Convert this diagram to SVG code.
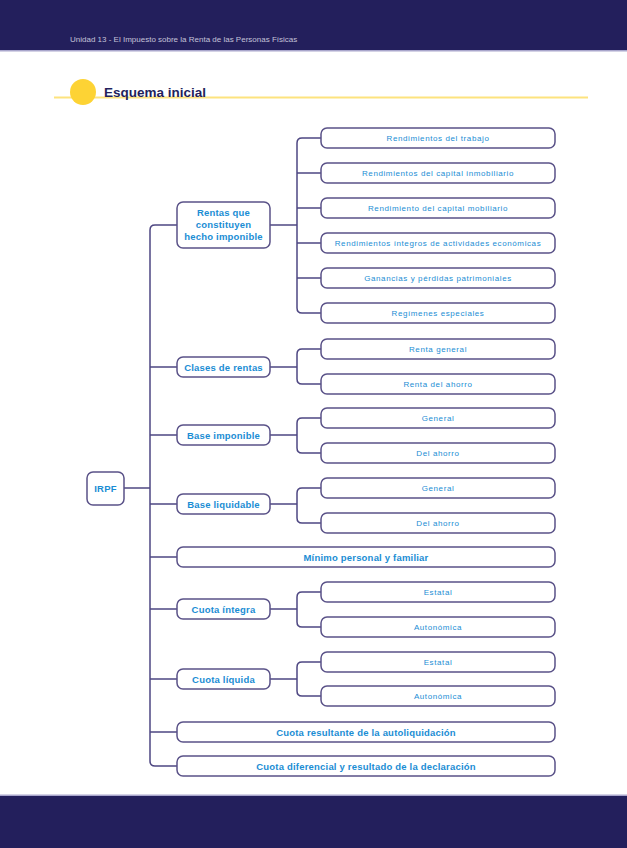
<svg xmlns="http://www.w3.org/2000/svg" width="627" height="848" viewBox="0 0 627 848">
<style>
.box{fill:#fff;stroke:#5a5288;stroke-width:1.5}
.con{fill:none;stroke:#4e4782;stroke-width:1.5}
.t2{font-family:"Liberation Sans",Arial,sans-serif;font-size:9.5px;font-weight:bold;fill:#1a8dd4;text-anchor:middle;letter-spacing:0.2px}
.t3{font-family:"Liberation Sans",Arial,sans-serif;font-size:8px;fill:#1a8dd4;text-anchor:middle;letter-spacing:0.6px}
</style>
<rect x="0" y="0" width="627" height="50" fill="#231f5c"/>
<rect x="0" y="50" width="627" height="1.5" fill="#a9a6cc"/>
<text x="70" y="42" font-family="'Liberation Sans',Arial,sans-serif" font-size="8" fill="#c4c2d8">Unidad 13 - El Impuesto sobre la Renta de las Personas Físicas</text>
<rect x="0" y="794.5" width="627" height="1.5" fill="#a9a6cc"/>
<rect x="0" y="796" width="627" height="52" fill="#231f5c"/>
<g id="title">
<line x1="54" y1="97.5" x2="588" y2="97.5" stroke="#fde37e" stroke-width="2"/>
<circle cx="83" cy="92" r="13" fill="#fdd334"/>
<text x="104" y="97" font-family="'Liberation Sans',Arial,sans-serif" font-size="13.5" font-weight="bold" fill="#231f5c">Esquema inicial</text>
</g>
<g id="connectors" class="con">
<path d="M124,488 H150"/>
<path d="M177,225 H155 Q150,225 150,230 V761 Q150,766 155,766 H177"/>
<path d="M150,367 H177 M150,435 H177 M150,504 H177 M150,557 H177 M150,609 H177 M150,679 H177 M150,732 H177"/>
<path d="M270,225 H297"/>
<path d="M321,138 H302 Q297,138 297,143 V308 Q297,313 302,313 H321"/>
<path d="M297,173 H321 M297,208 H321 M297,243 H321 M297,278 H321"/>
<path d="M270,367 H297 M321,349 H302 Q297,349 297,354 V379 Q297,384 302,384 H321"/>
<path d="M270,435 H297 M321,418 H302 Q297,418 297,423 V448 Q297,453 302,453 H321"/>
<path d="M270,504 H297 M321,488 H302 Q297,488 297,493 V518 Q297,523 302,523 H321"/>
<path d="M270,609 H297 M321,592 H302 Q297,592 297,597 V622 Q297,627 302,627 H321"/>
<path d="M270,679 H297 M321,662 H302 Q297,662 297,667 V691 Q297,696 302,696 H321"/>
</g>
<g id="irpf"><rect class="box" x="87" y="472" width="37" height="33" rx="6"/><text class="t2" x="105.5" y="491.5">IRPF</text></g>
<g id="rentas"><rect class="box" x="177" y="202" width="93" height="46" rx="6"/><text class="t2" x="223.5" y="216">Rentas que</text><text class="t2" x="223.5" y="228">constituyen</text><text class="t2" x="223.5" y="240">hecho imponible</text></g>
<g id="clases"><rect class="box" x="177" y="357" width="93" height="20" rx="6"/><text class="t2" x="223.5" y="370.5">Clases de rentas</text></g>
<g id="baseimp"><rect class="box" x="177" y="425" width="93" height="20" rx="6"/><text class="t2" x="223.5" y="438.5">Base imponible</text></g>
<g id="baseliq"><rect class="box" x="177" y="494" width="93" height="20" rx="6"/><text class="t2" x="223.5" y="507.5">Base liquidable</text></g>
<g id="minimo"><rect class="box" x="177" y="547" width="378" height="20" rx="6"/><text class="t2" x="366" y="560.5">Mínimo personal y familiar</text></g>
<g id="cuotaint"><rect class="box" x="177" y="599" width="93" height="20" rx="6"/><text class="t2" x="223.5" y="612.5">Cuota íntegra</text></g>
<g id="cuotaliq"><rect class="box" x="177" y="669" width="93" height="20" rx="6"/><text class="t2" x="223.5" y="682.5">Cuota líquida</text></g>
<g id="cuotares"><rect class="box" x="177" y="722" width="378" height="20" rx="6"/><text class="t2" x="366" y="735.5">Cuota resultante de la autoliquidación</text></g>
<g id="cuotadif"><rect class="box" x="177" y="756" width="378" height="20" rx="6"/><text class="t2" x="366" y="769.5">Cuota diferencial y resultado de la declaración</text></g>
<g id="r1"><rect class="box" x="321" y="128" width="234" height="20" rx="6"/><text class="t3" x="438" y="141">Rendimientos del trabajo</text></g>
<g id="r2"><rect class="box" x="321" y="163" width="234" height="20" rx="6"/><text class="t3" x="438" y="176">Rendimientos del capital inmobiliario</text></g>
<g id="r3"><rect class="box" x="321" y="198" width="234" height="20" rx="6"/><text class="t3" x="438" y="211">Rendimiento del capital mobiliario</text></g>
<g id="r4"><rect class="box" x="321" y="233" width="234" height="20" rx="6"/><text class="t3" x="438" y="246">Rendimientos íntegros de actividades económicas</text></g>
<g id="r5"><rect class="box" x="321" y="268" width="234" height="20" rx="6"/><text class="t3" x="438" y="281">Ganancias y pérdidas patrimoniales</text></g>
<g id="r6"><rect class="box" x="321" y="303" width="234" height="20" rx="6"/><text class="t3" x="438" y="316">Regímenes especiales</text></g>
<g id="c1"><rect class="box" x="321" y="339" width="234" height="20" rx="6"/><text class="t3" x="438" y="352">Renta general</text></g>
<g id="c2"><rect class="box" x="321" y="374" width="234" height="20" rx="6"/><text class="t3" x="438" y="387">Renta del ahorro</text></g>
<g id="b1"><rect class="box" x="321" y="408" width="234" height="20" rx="6"/><text class="t3" x="438" y="421">General</text></g>
<g id="b2"><rect class="box" x="321" y="443" width="234" height="20" rx="6"/><text class="t3" x="438" y="456">Del ahorro</text></g>
<g id="l1"><rect class="box" x="321" y="478" width="234" height="20" rx="6"/><text class="t3" x="438" y="491">General</text></g>
<g id="l2"><rect class="box" x="321" y="513" width="234" height="20" rx="6"/><text class="t3" x="438" y="526">Del ahorro</text></g>
<g id="i1"><rect class="box" x="321" y="582" width="234" height="20" rx="6"/><text class="t3" x="438" y="595">Estatal</text></g>
<g id="i2"><rect class="box" x="321" y="617" width="234" height="20" rx="6"/><text class="t3" x="438" y="630">Autonómica</text></g>
<g id="q1"><rect class="box" x="321" y="652" width="234" height="20" rx="6"/><text class="t3" x="438" y="665">Estatal</text></g>
<g id="q2"><rect class="box" x="321" y="686" width="234" height="20" rx="6"/><text class="t3" x="438" y="699">Autonómica</text></g>
</svg>
